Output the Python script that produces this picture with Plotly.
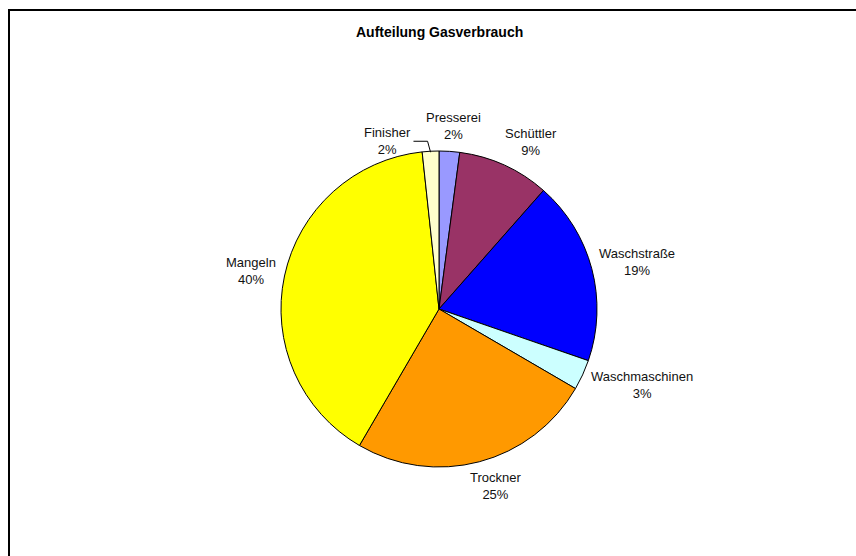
import math
import plotly.graph_objects as go

# Gas consumption split by department (share in %)
labels = ["Presserei", "Schüttler", "Waschstraße", "Waschmaschinen", "Trockner", "Mangeln", "Finisher"]
values = [2.1, 9.4, 18.8, 3.1, 25.0, 39.9, 1.7]
colors = ["#9999FF", "#993366", "#0000FF", "#CCFFFF", "#FF9900", "#FFFF00", "#FFFFCC"]

W, H = 856, 556
CX, CY, R = 439, 309, 158          # pie centre and radius in pixels
FONT = "Arial, Liberation Sans, sans-serif"
LABEL_SIZE = 13
LINE_H = 17                         # height of one label line
GAP = 8                             # distance between pie edge and label box


def px(x):
    return x / W


def py(y):
    return 1 - y / H


def text_width(s, size):
    # rough Arial width estimate for placing label boxes
    narrow = "iljtfr"
    wide = "mwWMG"
    w = 0
    for ch in s:
        if ch in narrow:
            w += 0.28
        elif ch in wide:
            w += 0.86
        elif ch.isupper():
            w += 0.68
        else:
            w += 0.55
    return w * size


fig = go.Figure(go.Pie(
    labels=labels,
    values=values,
    sort=False,
    direction="clockwise",
    rotation=0,
    textinfo="none",
    hoverinfo="label+percent",
    marker=dict(colors=colors, line=dict(color="#000000", width=1)),
    domain=dict(x=[px(CX - R), px(CX + R)], y=[py(CY + R), py(CY - R)]),
    showlegend=False,
))

total = sum(values)
annotations = []
shapes = []
cum = 0.0
for i, (lab, val) in enumerate(zip(labels, values)):
    mid = (cum + val / 2) / total * 2 * math.pi
    cum += val
    s, c = math.sin(mid), math.cos(mid)
    pct = round(val / total * 100)
    w = max(text_width(lab, LABEL_SIZE), text_width(f"{pct}%", LABEL_SIZE))
    h = 2 * LINE_H
    # box centre pushed outward so its nearest side sits GAP px off the rim
    sx = max(-1.0, min(1.0, 2.2 * s))
    lx = CX + (R + GAP) * s + (w / 2) * sx
    ly = CY - (R + GAP) * c - (h / 2) * c
    if lab == "Finisher":
        # small slice next to Presserei: move label aside and draw a leader line
        lx -= 40
        ly += 15
        ex, ey = CX + R * s, CY - R * c
        shapes.append(dict(
            type="path", xref="paper", yref="paper",
            path=(f"M {px(lx + w / 2 + 2)} {py(ly)} "
                  f"L {px(ex - 3)} {py(ly)} L {px(ex)} {py(ey + 1)}"),
            line=dict(color="#000000", width=1),
        ))
    annotations.append(dict(
        x=px(lx), y=py(ly), xref="paper", yref="paper",
        text=f"{lab}<br>{pct}%", showarrow=False,
        xanchor="center", yanchor="middle", align="center",
        font=dict(family=FONT, size=LABEL_SIZE, color="#111111"),
    ))

annotations.append(dict(
    x=px(CX), y=py(32), xref="paper", yref="paper",
    text="<b>Aufteilung Gasverbrauch</b>", showarrow=False,
    xanchor="center", yanchor="middle",
    font=dict(family=FONT, size=14, color="#000000"),
))

# chart frame
shapes.append(dict(
    type="rect", xref="paper", yref="paper",
    x0=px(9), y0=py(H + 20), x1=px(W + 20), y1=py(10),
    line=dict(color="#000000", width=2), fillcolor="rgba(0,0,0,0)",
))

fig.update_layout(
    width=W, height=H,
    margin=dict(l=0, r=0, t=0, b=0),
    paper_bgcolor="#FFFFFF",
    plot_bgcolor="#FFFFFF",
    annotations=annotations,
    shapes=shapes,
)

fig.write_html("out.html")
